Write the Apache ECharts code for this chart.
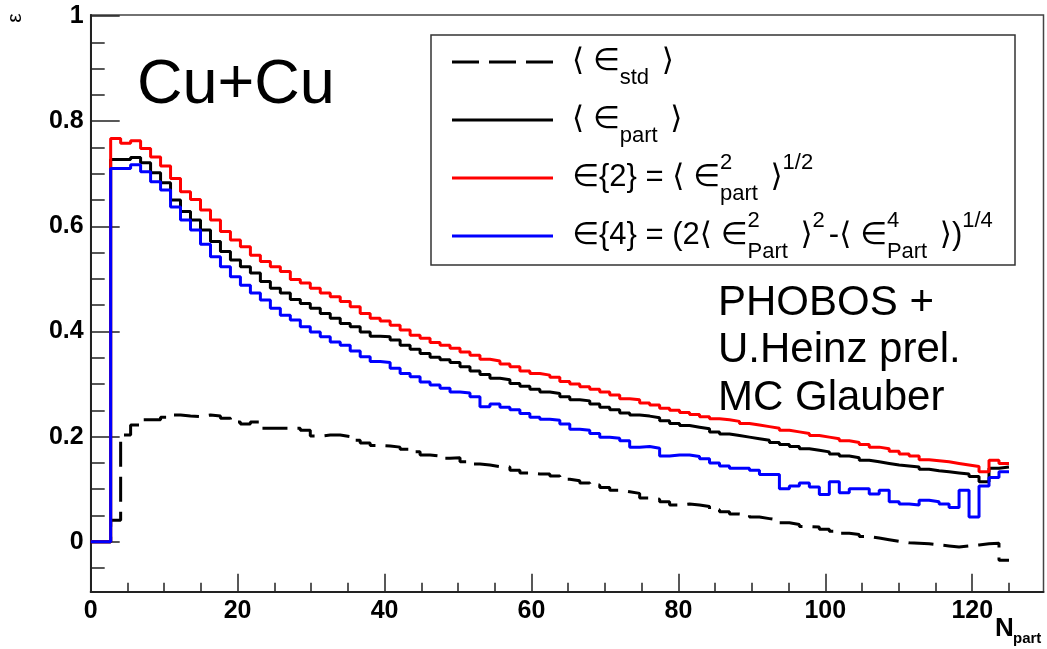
<!DOCTYPE html>
<html>
<head>
<meta charset="utf-8">
<script src="https://cdn.jsdelivr.net/npm/echarts@6/dist/echarts.min.js"></script>
<style>
  html, body { margin: 0; padding: 0; background: #fff; }
  #chart { width: 1047px; height: 649px; }
</style>
</head>
<body>
<div id="chart"></div>
<script>
// Histogram binning in N_part: 92 equal bins over [0, 125]
const BIN_COUNT = 92;
const N_MAX = 125;

// Axis ticks
const xMajorTicks = [0, 20, 40, 60, 80, 100, 120];
const xMinorTicks = [5, 10, 15, 25, 30, 35, 45, 50, 55, 65, 70, 75, 85, 90, 95, 105, 110, 115, 125];
const yMajorTicks = [0, 0.2, 0.4, 0.6, 0.8, 1];
const yMajorLabels = ['0', '0.2', '0.4', '0.6', '0.8', '1'];
const yMinorTicks = [-0.05, 0.05, 0.1, 0.15, 0.25, 0.3, 0.35, 0.45, 0.5, 0.55, 0.65, 0.7, 0.75, 0.85, 0.9, 0.95];

// <eps_std> per bin
const epsStd = [
  0, 0, 0.041, 0.203, 0.222, 0.232, 0.232, 0.237, 0.241, 0.239,
  0.238, 0.241, 0.239, 0.235, 0.228, 0.224, 0.228, 0.216, 0.216, 0.216,
  0.216, 0.212, 0.201, 0.203, 0.203, 0.200, 0.193, 0.188, 0.183, 0.182,
  0.180, 0.176, 0.171, 0.165, 0.163, 0.159, 0.160, 0.152, 0.148, 0.146,
  0.143, 0.142, 0.136, 0.131, 0.129, 0.129, 0.125, 0.119, 0.116, 0.112,
  0.108, 0.103, 0.098, 0.095, 0.092, 0.083, 0.081, 0.076, 0.070, 0.072,
  0.070, 0.067, 0.061, 0.057, 0.053, 0.051, 0.047, 0.044, 0.041, 0.036,
  0.033, 0.029, 0.028, 0.024, 0.020, 0.016, 0.014, 0.010, 0.007, 0.004,
  0.001, -0.002, -0.003, -0.004, -0.006, -0.008, -0.010, -0.008, -0.006, -0.004,
  -0.003, -0.035
];
// <eps_part> per bin
const epsPart = [
  0, 0, 0.727, 0.727, 0.731, 0.721, 0.702, 0.683, 0.650, 0.628,
  0.612, 0.593, 0.571, 0.552, 0.536, 0.523, 0.511, 0.495, 0.482, 0.473,
  0.461, 0.453, 0.444, 0.434, 0.425, 0.415, 0.409, 0.399, 0.391, 0.390,
  0.384, 0.374, 0.366, 0.358, 0.351, 0.346, 0.341, 0.333, 0.325, 0.318,
  0.311, 0.308, 0.301, 0.296, 0.290, 0.285, 0.282, 0.276, 0.270, 0.268,
  0.262, 0.256, 0.251, 0.245, 0.241, 0.239, 0.236, 0.230, 0.225, 0.221,
  0.218, 0.215, 0.209, 0.205, 0.202, 0.199, 0.196, 0.193, 0.189, 0.185,
  0.181, 0.177, 0.174, 0.171, 0.167, 0.163, 0.160, 0.155, 0.152, 0.149,
  0.146, 0.144, 0.142, 0.138, 0.135, 0.133, 0.131, 0.129, 0.124, 0.114,
  0.140, 0.142
];
// eps{2} per bin
const eps2 = [
  0, 0, 0.767, 0.758, 0.763, 0.748, 0.732, 0.715, 0.691, 0.666,
  0.651, 0.631, 0.612, 0.590, 0.574, 0.561, 0.545, 0.533, 0.523, 0.514,
  0.499, 0.492, 0.482, 0.473, 0.466, 0.457, 0.447, 0.434, 0.425, 0.420,
  0.412, 0.403, 0.393, 0.387, 0.379, 0.374, 0.368, 0.361, 0.355, 0.347,
  0.344, 0.338, 0.333, 0.325, 0.320, 0.317, 0.313, 0.305, 0.300, 0.295,
  0.290, 0.285, 0.279, 0.272, 0.270, 0.264, 0.260, 0.254, 0.250, 0.246,
  0.242, 0.238, 0.234, 0.232, 0.229, 0.225, 0.222, 0.219, 0.216, 0.212,
  0.209, 0.206, 0.202, 0.199, 0.196, 0.192, 0.189, 0.185, 0.180, 0.177,
  0.172, 0.167, 0.163, 0.156, 0.154, 0.152, 0.149, 0.146, 0.143, 0.133,
  0.155, 0.149
];
// eps{4} per bin
const eps4 = [
  0, 0, 0.710, 0.710, 0.717, 0.704, 0.685, 0.669, 0.637, 0.612,
  0.593, 0.566, 0.542, 0.523, 0.504, 0.488, 0.473, 0.460, 0.444, 0.431,
  0.422, 0.409, 0.399, 0.390, 0.380, 0.374, 0.363, 0.352, 0.343, 0.341,
  0.330, 0.320, 0.314, 0.304, 0.298, 0.292, 0.285, 0.283, 0.276, 0.257,
  0.262, 0.256, 0.251, 0.244, 0.237, 0.233, 0.231, 0.224, 0.214, 0.212,
  0.206, 0.199, 0.197, 0.192, 0.180, 0.181, 0.178, 0.163, 0.165, 0.165,
  0.162, 0.158, 0.150, 0.144, 0.140, 0.140, 0.136, 0.128, 0.128, 0.101,
  0.106, 0.112, 0.104, 0.090, 0.114, 0.093, 0.101, 0.101, 0.091, 0.098,
  0.076, 0.072, 0.070, 0.079, 0.076, 0.072, 0.065, 0.098, 0.047, 0.106,
  0.122, 0.133
];

// ---- histogram outline: one point per lower bin edge, plus the last upper edge ----
const binWidth = N_MAX / BIN_COUNT;
function histPoints(values) {
  const pts = values.map((v, k) => [k * binWidth, v]);
  pts.push([values.length * binWidth, values[values.length - 1]]);
  return pts;
}

const FONT = '"Liberation Sans", "DejaVu Sans", Arial, sans-serif';
const MATH_FONT = '"Liberation Sans", "DejaVu Sans", sans-serif';
const DASH = [25, 10];

// ---- small text layout helper for sub/superscripts in the legend ----
const measureCtx = document.createElement('canvas').getContext('2d');
function textWidth(t, size) {
  measureCtx.font = size + 'px ' + MATH_FONT;
  return measureCtx.measureText(t).width;
}
const MAIN_SIZE = 31, SCRIPT_SIZE = 22, SUB_DY = 17, SUP_DY = -14, SCRIPT_GAP = 4;
function mathLine(pieces, x0, yc) {
  const out = [];
  let x = x0, prevStart = x0;
  pieces.forEach(p => {
    const size = p.s ? SCRIPT_SIZE : MAIN_SIZE;
    const w = textWidth(p.t, size);
    const start = p.stack ? prevStart : x;
    const dy = p.s === 'sub' ? SUB_DY : (p.s === 'sup' ? SUP_DY : 0);
    out.push({
      type: 'text', x: start, y: yc + dy, silent: true,
      style: { text: p.t, fontSize: size, fontFamily: MATH_FONT, fill: '#000',
               align: 'left', verticalAlign: 'middle' }
    });
    const end = start + w + (p.s ? SCRIPT_GAP : 0);
    x = p.stack ? Math.max(x, end) : end;
    prevStart = start;
  });
  return out;
}

const legendRows = [
  { y: 61, color: '#000', dash: [27, 10],
    pieces: [{ t: '\u27E8 \u2208' }, { t: 'std', s: 'sub' }, { t: ' \u27E9' }] },
  { y: 119, color: '#000', dash: null,
    pieces: [{ t: '\u27E8 \u2208' }, { t: 'part', s: 'sub' }, { t: ' \u27E9' }] },
  { y: 177, color: '#ff0000', dash: null,
    pieces: [{ t: '\u2208{2} = \u27E8 \u2208' }, { t: '2', s: 'sup' }, { t: 'part', s: 'sub', stack: true },
             { t: ' \u27E9' }, { t: '1/2', s: 'sup' }] },
  { y: 235, color: '#0000ff', dash: null,
    pieces: [{ t: '\u2208{4} = (2\u27E8 \u2208' }, { t: '2', s: 'sup' }, { t: 'Part', s: 'sub', stack: true },
             { t: ' \u27E9' }, { t: '2', s: 'sup' }, { t: '-\u27E8 \u2208' }, { t: '4', s: 'sup' },
             { t: 'Part', s: 'sub', stack: true }, { t: ' \u27E9)' }, { t: '1/4', s: 'sup' }] }
];

const graphics = [
  { type: 'rect', shape: { x: 431, y: 35, width: 584, height: 230 },
    style: { fill: '#fff', stroke: '#333', lineWidth: 1.5 }, z: 10 }
];
legendRows.forEach(r => {
  graphics.push({ type: 'line', z: 11, shape: { x1: 452, y1: r.y + 1, x2: 553, y2: r.y + 1 },
    style: { stroke: r.color, lineWidth: 3, lineDash: r.dash || null } });
  mathLine(r.pieces, 572, r.y).forEach(e => { e.z = 11; graphics.push(e); });
});
graphics.push(
  { type: 'text', x: 137, y: 86, z: 11,
    style: { text: 'Cu+Cu', fontSize: 63, fontFamily: FONT, fill: '#000', align: 'left', verticalAlign: 'middle' } },
  { type: 'text', x: 718, y: 303, z: 11,
    style: { text: 'PHOBOS +', fontSize: 42, fontFamily: FONT, fill: '#000', align: 'left', verticalAlign: 'middle' } },
  { type: 'text', x: 718, y: 350, z: 11,
    style: { text: 'U.Heinz prel.', fontSize: 42, fontFamily: FONT, fill: '#000', align: 'left', verticalAlign: 'middle' } },
  { type: 'text', x: 718, y: 398, z: 11,
    style: { text: 'MC Glauber', fontSize: 42, fontFamily: FONT, fill: '#000', align: 'left', verticalAlign: 'middle' } },
  // axis titles
  { type: 'text', x: 15, y: 18, rotation: Math.PI / 2, z: 11,
    style: { text: '\u03B5', fontSize: 21, fontFamily: FONT, fill: '#000', align: 'center', verticalAlign: 'middle' } },
  { type: 'text', x: 995, y: 629, z: 11,
    style: { text: 'N', fontSize: 26, fontWeight: 'bold', fontFamily: FONT, fill: '#000', align: 'left', verticalAlign: 'middle' } },
  { type: 'text', x: 1013, y: 639, z: 11,
    style: { text: 'part', fontSize: 15, fontWeight: 'bold', fontFamily: FONT, fill: '#000', align: 'left', verticalAlign: 'middle' } }
);

const X_MIN = 0, X_MAX = 129.7, Y_MIN = -0.095, Y_MAX = 1.002;
const labelStyle = { fontFamily: FONT, fontWeight: 'bold', fontSize: 25, color: '#000' };

const chart = echarts.init(document.getElementById('chart'), null, { renderer: 'canvas' });
chart.setOption({
  animation: false,
  backgroundColor: '#fff',
  grid: { left: 90.7, right: 3.5, top: 15, bottom: 57.3, show: true,
          borderColor: '#444', borderWidth: 1.5, backgroundColor: 'transparent',
          containLabel: false, outerBoundsMode: 'none' },
  xAxis: [
    { type: 'value', min: X_MIN, max: X_MAX, position: 'bottom',
      axisLine: { show: true, onZero: false, lineStyle: { color: '#222', width: 2 } },
      axisTick: { show: true, inside: true, length: 18, customValues: xMajorTicks,
                  lineStyle: { color: '#222', width: 1.5 } },
      axisLabel: { show: true, margin: 7, customValues: xMajorTicks, ...labelStyle },
      splitLine: { show: false } },
    { type: 'value', min: X_MIN, max: X_MAX, position: 'bottom',
      axisLine: { show: false, onZero: false },
      axisTick: { show: true, inside: true, length: 9, customValues: xMinorTicks,
                  lineStyle: { color: '#222', width: 1.5 } },
      axisLabel: { show: false }, splitLine: { show: false } }
  ],
  yAxis: [
    { type: 'value', min: Y_MIN, max: Y_MAX, position: 'left',
      axisLine: { show: true, onZero: false, lineStyle: { color: '#222', width: 2 } },
      axisTick: { show: true, inside: true, length: 29, customValues: yMajorTicks,
                  lineStyle: { color: '#222', width: 1.5 } },
      axisLabel: { show: true, margin: 7, customValues: yMajorTicks,
                   formatter: v => yMajorLabels[yMajorTicks.findIndex(t => Math.abs(t - v) < 1e-6)] ?? '',
                   ...labelStyle },
      splitLine: { show: false } },
    { type: 'value', min: Y_MIN, max: Y_MAX, position: 'left',
      axisLine: { show: false, onZero: false },
      axisTick: { show: true, inside: true, length: 14, customValues: yMinorTicks,
                  lineStyle: { color: '#222', width: 1.5 } },
      axisLabel: { show: false }, splitLine: { show: false } }
  ],
  series: [
    { name: '<eps_std>', type: 'line', step: 'end', data: histPoints(epsStd),
      showSymbol: false, silent: true, z: 2,
      lineStyle: { color: '#000', width: 3, type: DASH } },
    { name: '<eps_part>', type: 'line', step: 'end', data: histPoints(epsPart),
      showSymbol: false, silent: true, z: 3,
      lineStyle: { color: '#000', width: 3 } },
    { name: 'eps{2}', type: 'line', step: 'end', data: histPoints(eps2),
      showSymbol: false, silent: true, z: 4,
      lineStyle: { color: '#ff0000', width: 3 } },
    { name: 'eps{4}', type: 'line', step: 'end', data: histPoints(eps4),
      showSymbol: false, silent: true, z: 5,
      lineStyle: { color: '#0000ff', width: 3 } }
  ],
  graphic: { elements: graphics }
});
</script>
</body>
</html>
